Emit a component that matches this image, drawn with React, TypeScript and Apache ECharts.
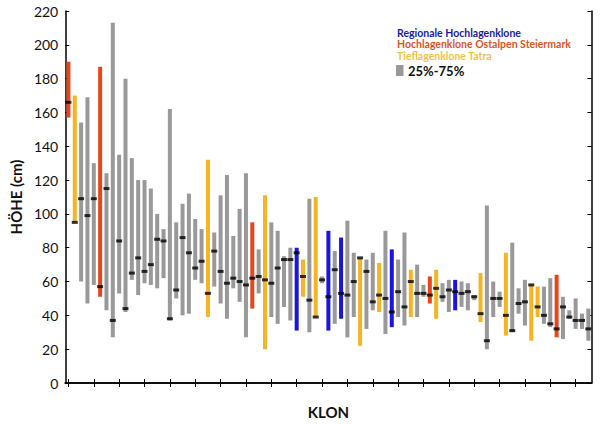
import React, { useEffect, useRef } from "react";
import * as echarts from "echarts";

// 25% quantile (bar bottom), 75% quantile (bar top), median, group per clone
const lows = [
  157, 95, 60, 47, 58, 51, 43, 27, 53, 42, 61, 52, 59, 58, 56, 62, 37, 50, 40, 41,
  61, 59, 39, 57, 47, 38, 56, 48, 27, 44, 53, 20, 39, 35, 45, 37, 31, 51, 30, 39,
  59, 31, 35, 38, 27, 39, 22, 32, 43, 42, 29, 33, 39, 34, 39, 39, 51, 47, 38, 48,
  42, 43, 45, 43, 49, 36, 20, 39, 45, 28, 30, 41, 34, 25, 39, 35, 33, 27, 26, 38,
  32, 32, 25,
];
const highs = [
  190, 170, 154, 169, 130, 187, 124, 213, 135, 180, 133, 120, 120, 115, 100, 91, 162, 95, 106, 112,
  97, 91, 132, 89, 111, 123, 87, 103, 124, 95, 79, 111, 95, 90, 75, 80, 80, 73, 109, 110,
  63, 90, 78, 86, 96, 77, 74, 73, 77, 71, 90, 79, 73, 89, 67, 70, 58, 63, 67, 59,
  61, 61, 60, 59, 52, 65, 105, 60, 54, 77, 83, 56, 61, 58, 57, 57, 62, 64, 51, 43,
  50, 41, 44,
];
const medians = [
  166, 95, 109, 99, 109, 57, 115, 37, 84, 44, 65, 74, 66, 70, 85, 84, 38, 55, 86, 77,
  68, 72, 53, 78, 66, 59, 62, 60, 58, 62, 63, 61, 59, 68, 73, 73, 77, 63, 49, 39,
  61, 51, 67, 53, 52, 60, 74, 66, 48, 52, 50, 42, 54, 45, 60, 53, 53, 52, 56, 51,
  55, 54, 53, 54, 51, 41, 25, 50, 50, 40, 31, 47, 48, 58, 45, 40, 35, 32, 45, 39,
  37, 37, 32,
];
// R = Hochlagenklone Ostalpen Steiermark, Y = Tieflagenklone Tatra,
// B = Regionale Hochlagenklone, G = other clones
const groups = [
  "R", "Y", "G", "G", "G", "R", "G", "G", "G", "G", "G", "G", "G", "G", "G", "G", "G", "G", "G", "G",
  "G", "G", "Y", "G", "G", "G", "G", "G", "G", "R", "G", "Y", "G", "G", "G", "G", "B", "Y", "G", "Y",
  "G", "B", "G", "B", "G", "G", "Y", "G", "G", "Y", "G", "B", "G", "G", "Y", "G", "G", "R", "Y", "G",
  "G", "B", "G", "G", "G", "Y", "G", "G", "G", "Y", "G", "G", "G", "Y", "Y", "G", "G", "R", "G", "G",
  "G", "G", "G",
];
const clones = lows.map((_, i) => String(i + 1));
const yTicks = { min: 0, max: 220, interval: 20 };

const groupColors: Record<string, string> = {
  R: "#e6461c",
  Y: "#f7b422",
  B: "#1a14e0",
  G: "#999999",
};

const legendItems = [
  { text: "Regionale Hochlagenklone", color: "#1d1d9a" },
  { text: "Hochlagenklone Ostalpen Steiermark", color: "#d8561f" },
  { text: "Tieflagenklone Tatra", color: "#f3c23e" },
];

const FONT = "Lato, 'Open Sans', sans-serif";

export default function App() {
  const ref = useRef<HTMLDivElement>(null);
  useEffect(() => {
    if (!ref.current) return;
    const chart = echarts.init(ref.current, undefined, { renderer: "svg" });
    const axisLine = { show: true, lineStyle: { color: "#000", width: 1.5 } };
    const xTick = {
      show: true,
      inside: true,
      interval: 3,
      alignWithLabel: true,
      length: 4,
      lineStyle: { color: "#000", width: 1 },
    };
    const yTick = { show: true, inside: true, length: 4, lineStyle: { color: "#000", width: 1 } };
    chart.setOption({
      animation: false,
      backgroundColor: "#fff",
      grid: { left: 60.5, right: 8.5, top: 11, bottom: 41, containLabel: false },
      xAxis: [
        {
          type: "category",
          data: clones,
          boundaryGap: true,
          axisLine,
          axisTick: xTick,
          axisLabel: { show: false },
          splitLine: { show: false },
          name: "KLON",
          nameLocation: "middle",
          nameGap: 21,
          nameTextStyle: { fontFamily: FONT, fontWeight: "bold", fontSize: 15, color: "#111" },
        },
        {
          type: "category",
          data: clones,
          position: "top",
          boundaryGap: true,
          axisLine,
          axisTick: xTick,
          axisLabel: { show: false },
          splitLine: { show: false },
        },
      ],
      yAxis: [
        {
          type: "value",
          ...yTicks,
          axisLine,
          axisTick: yTick,
          axisLabel: { fontFamily: FONT, fontSize: 14, color: "#111", margin: 7 },
          splitLine: { show: false },
          name: "HÖHE (cm)",
          nameLocation: "middle",
          nameGap: 35,
          nameTextStyle: { fontFamily: FONT, fontWeight: "bold", fontSize: 15, color: "#111" },
        },
        {
          type: "value",
          position: "right",
          ...yTicks,
          axisLine,
          axisTick: yTick,
          axisLabel: { show: false },
          splitLine: { show: false },
        },
      ],
      series: [
        {
          type: "bar",
          stack: "q",
          barWidth: 4,
          silent: true,
          itemStyle: { color: "transparent" },
          data: lows,
        },
        {
          type: "bar",
          stack: "q",
          barWidth: 4,
          data: highs.map((h, i) => ({
            value: h - lows[i],
            itemStyle: { color: groupColors[groups[i]] },
          })),
        },
        {
          type: "scatter",
          symbol: "rect",
          symbolSize: [6, 3],
          itemStyle: { color: "#000" },
          z: 5,
          data: medians,
        },
      ],
      graphic: [
        ...legendItems.map((it, i) => ({
          type: "text",
          x: 397,
          y: 32.5 + i * 11.8,
          style: {
            text: it.text,
            fill: it.color,
            font: `bold 10.5px ${FONT}`,
            lineHeight: 10.5,
            verticalAlign: "middle",
          },
        })),
        {
          type: "rect",
          x: 396,
          y: 65,
          shape: { width: 7.5, height: 11 },
          style: { fill: "#999999" },
        },
        {
          type: "text",
          x: 408,
          y: 71,
          style: {
            text: "25%-75%",
            fill: "#111",
            font: `bold 13px ${FONT}`,
            lineHeight: 13,
            verticalAlign: "middle",
          },
        },
      ],
    });
    return () => chart.dispose();
  }, []);
  return (
    <div
      ref={ref}
      style={{ position: "fixed", left: 0, top: 0, width: 600, height: 424 }}
    />
  );
}
